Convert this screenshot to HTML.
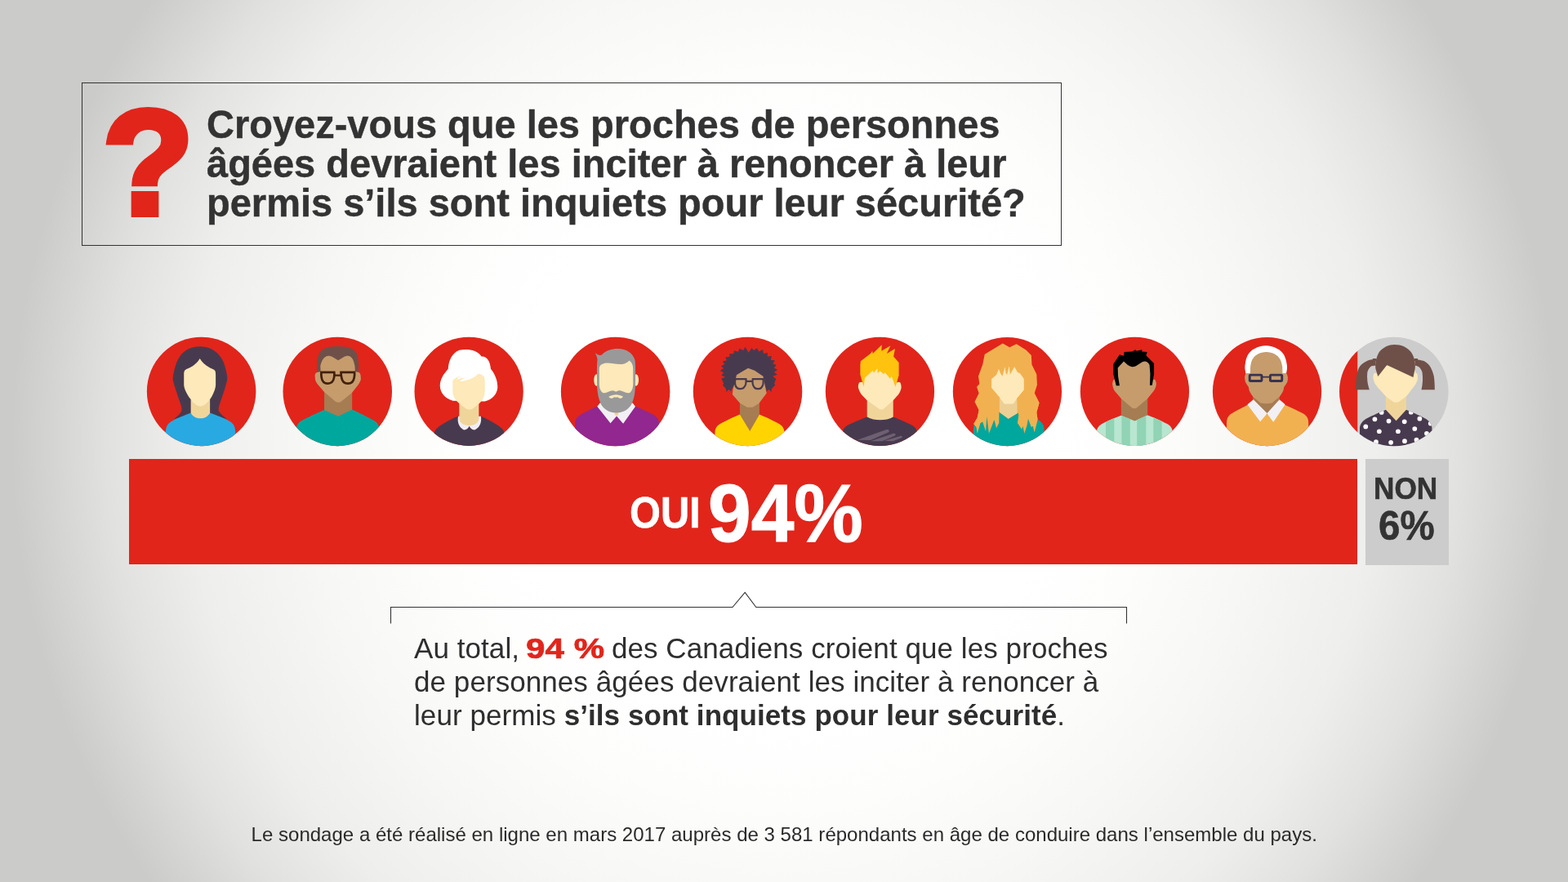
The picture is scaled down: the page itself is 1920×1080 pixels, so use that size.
<!DOCTYPE html>
<html lang="fr">
<head>
<meta charset="utf-8">
<title>Sondage</title>
<style>
html,body{margin:0;padding:0;}
body{width:1920px;height:1080px;overflow:hidden;position:relative;
  font-family:"Liberation Sans",sans-serif;color:#333;
  background:#cbcbc9 radial-gradient(circle 975px at 960px 540px,#ffffff 0%,#ffffff 34%,#fdfdfc 46%,#f7f7f5 60%,#eeeeec 75%,#e1e1df 85%,#d4d4d2 92%,#cbcbc9 97%);}
.abs{position:absolute;white-space:nowrap;}
#qbox{left:100px;top:101px;width:1198px;height:198px;border:1px solid #333;}
#title{left:253.2px;top:129.4px;font-weight:bold;font-size:48px;line-height:48px;-webkit-text-stroke:0.45px #333;transform:scaleX(0.979);transform-origin:0 0;}
#bar{left:158px;top:562.2px;width:1504.3px;height:129.3px;background:#e1251b;}
#nonbox{left:1672.2px;top:562.4px;width:101.6px;height:129.2px;background:#ccc;}
.sx{transform-origin:0 0;font-weight:bold;-webkit-text-stroke:0.6px currentColor;}
#oui{left:770.8px;top:602px;font-size:52.8px;line-height:52.8px;color:#fff;transform:scaleX(0.923);}
#p94{left:866.8px;top:578px;font-size:100.6px;line-height:100.6px;color:#fff;transform:scaleX(0.9418);-webkit-text-stroke:1.2px #fff;}
#non{left:1682.2px;top:579.8px;font-size:37.7px;line-height:37.7px;transform:scaleX(0.9335);}
#p6{left:1687.6px;top:618.9px;font-size:50.3px;line-height:50.3px;transform:scaleX(0.943);}
#body{left:507px;top:773px;font-size:35px;line-height:41px;color:#2e2e2e;letter-spacing:0.07px;}
#body .r{color:#e1251b;display:inline-block;width:93.3px;font-weight:bold;-webkit-text-stroke:0.7px #e1251b;}
#body .r span{display:inline-block;transform:scaleX(1.2);transform-origin:0 0;margin-left:-1.5px;}
#foot{left:307.6px;top:1007.8px;font-size:24px;line-height:28px;color:#2a2a2a;letter-spacing:0.015px;}
svg{position:absolute;left:0;top:0;}
</style>
</head>
<body>
<div class="abs" id="qbox"></div>
<div class="abs" id="title">Croyez-vous que les proches de personnes<br>âgées devraient les inciter à renoncer à leur<br>permis s’ils sont inquiets pour leur sécurité?</div>
<svg id="art" width="1920" height="1080" viewBox="0 0 1920 1080">
<text id="qm" x="181.3" y="262" text-anchor="middle" font-family="Liberation Sans, sans-serif" font-weight="bold" font-size="182" fill="#e1251b" stroke="#e1251b" stroke-width="8" stroke-linejoin="miter">?</text>
<g transform="translate(177,409) scale(0.12963)">
<clipPath id="c1"><circle cx="537" cy="543" r="515"/></clipPath>
<circle cx="537" cy="543" r="515" fill="#e1251b"/>
<g clip-path="url(#c1)">
<path d="M520 118C640 118 725 190 758 300C775 360 785 400 780 435C770 480 745 560 720 630C705 675 695 700 700 725C715 750 740 775 775 800L280 800C315 775 340 750 350 725C355 700 345 675 330 630C305 560 280 480 268 435C265 400 275 360 292 300C325 190 400 118 520 118Z" fill="#483a4e"/>
<path d="M437 600H618V780L528 810L437 780Z" fill="#f0d59b"/>
<path d="M522 232C545 275 600 315 645 332C665 340 672 350 672 380V480C672 520 640 590 615 620C590 655 560 682 528 682C495 682 462 655 440 620C412 590 372 520 372 480V380C372 350 380 340 400 330C450 312 500 275 522 232Z" fill="#fde9b9"/>
<path d="M437 745C437 745 460 797 528 797C595 797 618 745 618 745C700 775 780 805 820 835C850 860 858 890 858 930V1080H200V930C200 890 208 860 240 835C280 805 360 775 437 745Z" fill="#29a9e1"/>
</g>
</g>
<g transform="translate(343,409) scale(0.12963)">
<clipPath id="c2"><circle cx="542" cy="543" r="515"/></clipPath>
<circle cx="542" cy="543" r="515" fill="#e1251b"/>
<g clip-path="url(#c2)">
<path d="M417 500H680V790H417Z" fill="#a67c52"/>
<path d="M415 718L550 778L680 714C760 750 850 795 900 825C925 845 938 870 940 900V1080H150V900C152 870 165 845 190 825C240 795 330 755 415 718Z" fill="#00a79d"/>
<path d="M351 365C347 300 347 240 366 190C386 140 440 115 545 115C650 115 708 140 726 190C743 240 743 300 740 365L712 400L382 400Z" fill="#6f5048"/>
<path d="M346 363C335 370 328 382 328.600 394.300L331.400 428.600C335 448 345 462 354.300 474.300L417 548.600L525.700 640C540 647 558 647 571.400 642.900L680 554.300L737 480C748 465 758 448 762.900 428.600L761 394.300C760 382 754 370 745.700 362.900L708.600 354.300L705.700 302.900C700 270 692 245 680 228.600C668 212 655 205 640 205.700C625 206 612 210 600 217L548.600 248.600L497 217C485 210 472 206 457 205.700C440 206 425 214 411.400 228.600C395 248 385 275 380 302.900L382.900 354.300Z" fill="#c69c6d"/>
<g fill="none" stroke="#42210b" stroke-width="21">
<path d="M389 361H511C513 375 513 392 510 410C504 445 482 468 450 468C418 468 396 445 391 410C388 392 388 375 389 361Z"/>
<path d="M575 361H702C704 375 704 392 700 410C694 445 672 468 640 468C608 468 586 445 580 410C576 392 575 375 575 361Z"/>
<path d="M511 391H575" stroke-width="17"/>
</g>
</g>
</g>
<g transform="translate(504,409) scale(0.12963)">
<clipPath id="c3"><circle cx="541" cy="542" r="514"/></clipPath>
<circle cx="541" cy="542" r="514" fill="#e1251b"/>
<g clip-path="url(#c3)">
<path d="M450 152C530 138 625 150 660 213C705 208 742 250 748 330C790 380 816 450 812 512C805 572 760 622 690 636L390 630C320 612 270 560 268 490C268 430 300 380 345 330C350 250 380 180 450 152Z" fill="#ffffff"/>
<path d="M437 778C350 815 270 860 235 895C215 915 210 940 210 970V1080H880V970C880 940 875 915 855 895C820 860 740 815 655 778Z" fill="#483a4e"/>
<path d="M440 778L655 778C662 830 650 880 600 905C575 910 555 890 545 870C535 890 515 910 490 905C445 880 430 830 440 778Z" fill="#f1eef3"/>
<path d="M450 620H635V800C635 840 590 865 545 865C500 865 450 840 450 800Z" fill="#f0d59b"/>
<path d="M388 440C420 400 500 380 560 378C610 375 650 365 680 400C690 410 692 430 692 460V540C692 580 670 630 640 655L575 705C555 716 535 716 515 705L450 655C415 630 388 580 388 540Z" fill="#fde9b9"/>
<path d="M640 362C600 420 520 440 455 448C470 430 490 420 510 410C480 415 450 420 428 432C440 405 470 385 500 372C460 380 430 395 405 420C420 380 470 350 540 345C580 343 615 350 640 362Z" fill="#ffffff"/>
</g>
</g>
<g transform="translate(684,409) scale(0.12963)">
<clipPath id="c4"><circle cx="537" cy="544" r="515"/></clipPath>
<circle cx="537" cy="544" r="515" fill="#e1251b"/>
<g clip-path="url(#c4)">
<path d="M365 683C290 720 215 755 190 775C165 795 155 815 155 850V1080H950V850C950 815 940 795 915 775C890 755 810 720 725 683Z" fill="#92278f"/>
<path d="M390 652L365 685L490 842L548 775L610 846L725 685L700 652Z" fill="#f2f0f4"/>
<path d="M530 735H565V762L548 775L530 762Z" fill="#f0d59b"/>
<ellipse cx="358" cy="435" rx="24" ry="56" fill="#fde9b9"/>
<ellipse cx="732" cy="435" rx="24" ry="56" fill="#fde9b9"/>
<path d="M345 178C370 200 395 205 410 195C445 155 500 138 560 138C640 138 705 180 722 250C728 290 726 400 724 500C722 560 712 610 695 650C675 700 620 745 545 745C470 745 415 700 395 650C378 610 366 560 364 500C362 400 360 300 366 245C368 225 355 200 345 178Z" fill="#999999"/>
<path d="M384 330C384 300 400 285 430 277C480 265 540 290 600 285C635 280 655 262 668 250C690 265 704 290 704 330V470C704 510 690 545 670 555C640 565 610 535 570 535C555 535 550 545 542 545C534 545 528 535 512 535C475 535 450 565 420 555C398 545 384 510 384 470Z" fill="#fde9b9"/>
<path d="M472 592C495 580 520 572 542 572C565 572 590 580 610 592C600 605 585 612 572 606C560 596 550 592 542 600C532 592 522 596 512 606C498 612 482 605 472 592Z" fill="#fde9b9"/>
</g>
</g>
<g transform="translate(845,409) scale(0.12963)">
<clipPath id="c5"><circle cx="544" cy="543" r="515"/></clipPath>
<circle cx="544" cy="543" r="515" fill="#e1251b"/>
<g clip-path="url(#c5)">
<path d="M577 125 L602 154 L633 133 L650 166 L687 147 L694 186 L732 177 L731 212 L771 209 L761 244 L801 248 L782 281 L816 292 L793 320 L827 337 L793 360 L824 382 L783 399 L809 427 L764 436 L775 464 L735 469 L741 499 L698 496 L695 525 L655 516 L647 550 L607 529 L590 560 L558 534 L534 555 L508 530 L476 555 L460 518 L423 537 L416 498 L377 509 L379 472 L338 475 L349 440 L313 434 L328 403 L296 392 L317 364 L283 347 L317 324 L292 303 L327 285 L307 259 L346 248 L333 220 L375 215 L371 187 L412 188 L413 156 L455 168 L465 137 L503 155 L519 123 L552 150Z" fill="#483a4e"/>
<path d="M520 120L553 175L590 120Z" fill="#e1251b"/>
<path d="M295 420L318 468L308 482L340 518L342 548L365 522L385 542L405 500L420 380Z M812 420L795 468L804 482L772 515L768 548L745 522L725 542L712 500L700 380Z" fill="#483a4e"/>
<path d="M470 640H655V762L565 918L470 762Z" fill="#a67c52"/>
<path d="M470 760L565 917L655 760C740 795 820 835 850 855C880 875 890 900 890 930V1080H235V930C235 900 245 875 275 855C305 835 385 795 470 760Z" fill="#ffd400"/>
<path d="M548 322L610 345L690 400L722 560L650 655L590 692H540L470 652L400 570L405 520L440 385Z" fill="#c69c6d"/>
<g fill="none" stroke="#483a4e" stroke-width="17">
<path d="M428 425H528C530 440 530 455 526 472C518 500 500 518 475 518C448 518 430 500 425 472C422 455 424 440 428 425Z"/>
<path d="M592 425H690C693 440 693 455 690 472C684 500 668 518 642 518C615 518 598 500 592 472C588 455 589 440 592 425Z"/>
<path d="M528 447H592"/>
</g>
</g>
</g>
<g transform="translate(1007,409) scale(0.12963)">
<clipPath id="c6"><circle cx="543.5" cy="542.5" r="514"/></clipPath>
<circle cx="543.5" cy="542.5" r="514" fill="#e1251b"/>
<g clip-path="url(#c6)">
<path d="M422 600H669V830H422Z" fill="#f0d59b"/>
<path d="M422 783C460 805 500 812 545 812C590 812 635 805 669 783C750 815 830 850 860 870C885 890 897 910 897 940V1080H190V940C190 910 200 890 225 870C255 850 340 815 422 783Z" fill="#483a4e"/>
<path d="M330 1000L600 905C625 898 640 915 625 928L455 1002Z M455 1012L670 940C692 936 698 950 686 960L565 1012Z M585 1008L740 962C757 960 760 972 750 980L665 1012Z" fill="#6d6072"/>
<path d="M347 459C340 475 338 490 338.600 505.700C345 530 355 552 368.600 570L422 627L540 709C552 714 564 714 575.700 709L668.600 627L718.600 570C732 552 742 530 745.700 505.700C746 490 743 475 736.400 459.300C725 450 715 452 705 460L690 320H400L385 460C375 452 360 450 347 459Z" fill="#fde9b9"/>
<path d="M357.9 291.4L361.4 255.7L454.3 184.3L472.1 159.3L475.7 184.3L561.4 102.1L557.9 159.3L643.6 109.3L607.9 184.3L686.4 137.9L672.1 212.9L722.1 270L722.1 391.4L690 498.6L654.3 398.6L640 420L590 362.9L582.9 380.7L543.6 348.6L522.1 370L518.6 323.6L486.4 366.4L475.7 345L440 377.1L400.7 412.9L390 498.6L357.9 384.3Z" fill="#ffc20e"/>
</g>
</g>
<g transform="translate(1163,409) scale(0.12963)">
<clipPath id="c7"><circle cx="543.5" cy="544" r="514"/></clipPath>
<circle cx="543.5" cy="544" r="514" fill="#e1251b"/>
<g clip-path="url(#c7)">
<path d="M500 88L565 125L630 95L720 150L770 200L775 290L820 380L825 480L800 560L845 650L820 740L830 810L640 840L465 840L225 850L260 790L275 720L235 640L275 560L255 500L280 470L270 400L310 290L330 190Z" fill="#f2b150"/>
<path d="M465 735L553 800L655 740C740 770 820 800 850 820C880 845 892 870 892 910V1080H222V910C222 870 232 845 262 820C295 800 380 765 465 735Z" fill="#00a79d"/>
<path d="M468 600H637V748L553 800L468 738Z" fill="#eccf95"/>
<path d="M394 424L440 385L463 330L478 370L497 399L521 311L530 370L540 386L561 302L570 381L611 311L640 360L664 373L686 403L700 424L700 531L634 609L600 660L514 660L471 600L394 510Z" fill="#fde9b9"/>
<path d="M394 510L471 600L468 640L465 840L440 890L420 810L370 940L350 780L340 920L310 830L290 840L260 940L250 880L225 850L260 790L275 720L300 600Z M700 531L634 609L637 640L650 770L640 840L680 900L690 870L705 940L730 860L740 800L770 880L785 870L800 930L830 810L820 740L845 650L800 560Z" fill="#f2b150"/>
</g>
</g>
<g transform="translate(1319,409) scale(0.12963)">
<clipPath id="c8"><circle cx="543.5" cy="542.5" r="514"/></clipPath>
<clipPath id="s8"><path d="M415 770L544 822L665 765C750 800 830 835 860 855C890 875 902 900 902 930V1080H183V930C183 900 195 875 225 855C255 835 335 800 415 770Z"/></clipPath>
<circle cx="543.5" cy="542.5" r="514" fill="#e1251b"/>
<g clip-path="url(#c8)">
<path d="M415 600H665V840H415Z" fill="#a67c52"/>
<g clip-path="url(#s8)">
<rect x="180" y="740" width="730" height="340" fill="#b9e6d0"/>
<path d="M270 740H350V1080H270Z M420 740H500V1080H420Z M565 740H650V1080H565Z M720 740H800V1080H720Z" fill="#90d3b5"/>
</g>
<path d="M343.6 434.3C336 448 332 462 332.9 477.1C336 500 342 518 350.7 534.3L415 609.3L518.6 698.6C532 704 548 704 561.4 698.6L665 609.3L725.7 534.3C736 518 744 500 747.1 477.1C748 462 744 448 736.4 434.3C725 428 715 430 705 440L692 245H385L378 440C368 430 355 428 343.6 434.3Z" fill="#c69c6d"/>
<path d="M390 487.9L368.600 487.900L341.400 377.100L341.400 284.300L400.700 195L440 205.700L443.600 170L518.600 166.400L550.700 148.600L561.400 159.300L611.400 148.600L611.400 166.400L661.400 170L650.700 202.100L725.700 277.100L725.700 377.100L707.900 484.300L686.400 484.300L690 377.100L682.900 291.400C670 270 655 260 640 259.300C630 260 620 262 611.400 266.400L554.300 302.100C540 308 525 311 511.400 309.300C498 305 486 298 475.700 291.400L440 259.300L382.900 320L386.400 398.600L400.700 487.900Z" fill="#000000"/>
</g>
</g>
<g transform="translate(1481,409) scale(0.12963)">
<clipPath id="c9"><circle cx="544" cy="544" r="514"/></clipPath>
<circle cx="544" cy="544" r="514" fill="#e1251b"/>
<g clip-path="url(#c9)">
<path d="M358 672C280 710 215 745 190 765C170 785 162 805 162 840V1080H935V840C935 805 927 785 905 765C880 745 800 710 715 672Z" fill="#f2b150"/>
<path d="M411 560H662V700L544 760L411 700Z" fill="#a67c52"/>
<path d="M415 620L358 666L479 828L544 753L604 831L715 666L661 620L544 749Z" fill="#f2f0f4"/>
<path d="M352 400C335 350 332 320 336.4 291.4C340 255 348 225 361.4 198.6C378 170 398 150 425.7 137.9C460 118 495 109 532.9 109.3C570 109 605 118 640 137.9C668 150 688 170 704.3 198.6C718 225 727 255 731.4 291.4C736 320 733 350 716 400Z" fill="#ffffff"/>
<path d="M347 370C338 380 333 395 332.9 412.9C333 428 336 442 340 455.7C348 472 358 486 368.6 498.6L375.7 534.3C385 555 398 575 411.400 591.400L482.900 652.100C520 660 555 660 590 652.100L661.400 591.400C675 575 688 555 697.100 534.300L704.300 498.600C716 484 728 468 736.400 448.600C739 436 741 425 740 412.900C739 395 734 380 725.700 370L690 370L688.600 312.900C685 285 678 262 668.600 241.400C655 218 638 202 618.600 191.400C592 177 565 170 536.400 170C508 170 481 177 454.300 191.400C435 202 418 218 404.300 241.400C395 262 389 285 386.400 312.900L384 370Z" fill="#c69c6d"/>
<g fill="none" stroke="#37324f" stroke-width="22">
<rect x="379.6" y="386.7" width="113.7" height="56.6" rx="9"/>
<rect x="573.9" y="386.7" width="110.8" height="56.6" rx="9"/>
<path d="M495 406H572" stroke-width="15"/>
</g>
</g>
</g>
<g transform="translate(1637,409) scale(0.12963)">
<clipPath id="c10"><circle cx="538.5" cy="544" r="515"/></clipPath>
<clipPath id="s10"><path d="M462 715L560 820L655 715C740 750 815 785 845 805C880 830 900 860 900 900V1080H215V900C215 860 235 830 270 805C300 785 380 750 462 715Z"/></clipPath>
<circle cx="538.5" cy="544" r="515" fill="#cccccc"/>
<g clip-path="url(#c10)">
<rect x="0" y="0" width="195" height="1080" fill="#e1251b"/>
<path d="M366.4 242.7C340 240 312 243 287.9 252.1C258 265 235 283 217.2 305.6C200 332 190 365 185.7 399.9C180 440 178 485 177.9 525.6H307.5C298 498 291 470 287.9 439.1C285 412 285 385 287.9 360.6C294 338 306 318 323.2 304C336 298 350 297 366.4 299Z M739.6 242.7C768 241 796 245 822.1 254.5C848 268 870 288 885 313.4C900 340 910 370 916.4 399.9C922 440 925 485 924.3 525.6H798.6C805 498 809 470 810.4 439.1C811 412 810 385 806.4 360.6C800 342 790 326 775 311C764 303 752 299 739.6 299Z" fill="#6f5048"/>
<path d="M338 231H372V256H338Z" fill="#6f5048"/><path d="M732 231H764V256H732Z" fill="#6f5048"/>
<path d="M462 590H655V720L560 822L462 720Z" fill="#f0d59b"/>
<g clip-path="url(#s10)"><rect x="200" y="700" width="720" height="380" fill="#483a4e"/><g fill="#ffffff"><circle cx="422" cy="740" r="22"/><circle cx="700" cy="738" r="22"/><circle cx="358" cy="805" r="22"/><circle cx="490" cy="822" r="22"/><circle cx="638" cy="828" r="22"/><circle cx="782" cy="800" r="22"/><circle cx="272" cy="875" r="22"/><circle cx="400" cy="920" r="22"/><circle cx="578" cy="920" r="22"/><circle cx="735" cy="895" r="22"/><circle cx="885" cy="845" r="22"/><circle cx="848" cy="940" r="22"/><circle cx="510" cy="1025" r="22"/><circle cx="640" cy="1012" r="22"/><circle cx="752" cy="1000" r="22"/><circle cx="370" cy="1020" r="22"/></g></g>
<path d="M350.7 372.4C344 385 342 400 342.9 415.6C346 438 353 458 362.5 474.5L390 509.9L468.6 596.3L539.3 643.4C555 648 572 646 586.4 639.5L657.1 588.4L735.7 486.3C748 468 758 446 763.2 423.4C764 406 763 390 759.3 376.3C754 368 748 366 743.6 368.4L725 300H385L375 372C366 366 357 366 350.7 372.4Z" fill="#fde9b9"/>
<path d="M388 402L366 330C360 280 370 220 400 170C435 125 490 100 545 100C610 100 665 125 700 170C735 220 745 280 738 330L721 408L472.5 293.8Z" fill="#6f5048"/>
</g>
</g>
<path d="M478.5 763.5V743.5H897L912.2 725.5L925.8 743.5H1379.5V763.5" fill="none" stroke="#333" stroke-width="1.1"/>
</svg>
<div class="abs" id="bar"></div>
<div class="abs" id="nonbox"></div>
<div class="abs sx" id="oui">OUI</div>
<div class="abs sx" id="p94">94%</div>
<div class="abs sx" id="non">NON</div>
<div class="abs sx" id="p6">6%</div>
<div class="abs" id="body">Au total, <span class="r"><span>94 %</span></span> des Canadiens croient que les proches<br>de personnes âgées devraient les inciter à renoncer à<br>leur permis <b>s’ils sont inquiets pour leur sécurité</b>.</div>
<div class="abs" id="foot">Le sondage a été réalisé en ligne en mars 2017 auprès de 3 581 répondants en âge de conduire dans l’ensemble du pays.</div>
</body>
</html>
